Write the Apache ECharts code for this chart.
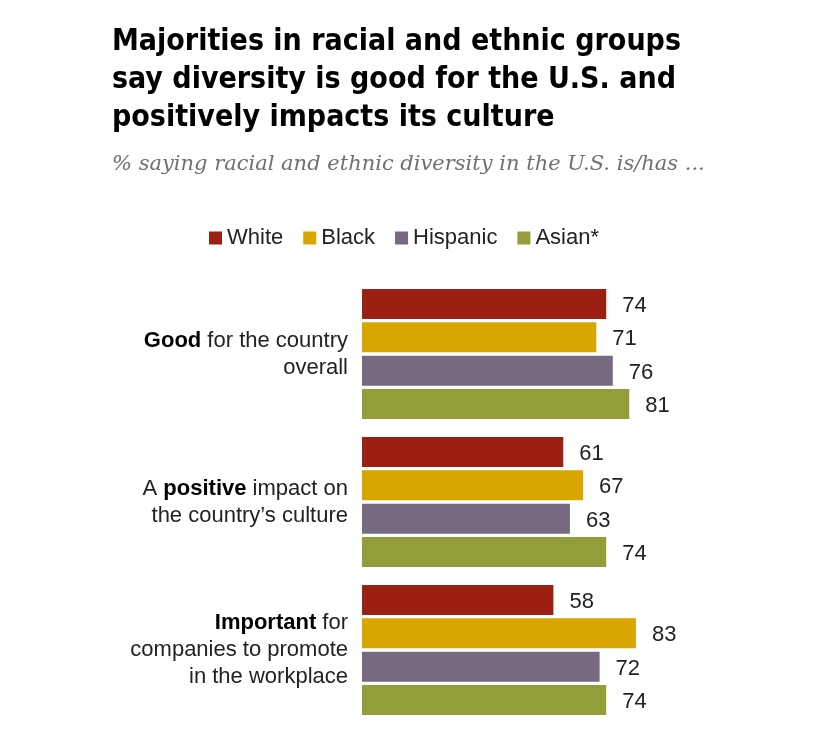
<!DOCTYPE html>
<html>
<head>
<meta charset="utf-8">
<script src="https://cdn.jsdelivr.net/npm/echarts@6/dist/echarts.min.js"></script>
<style>
  html, body { margin: 0; padding: 0; background: #ffffff; }
  #chart { width: 828px; height: 735px; }
</style>
</head>
<body>
<div id="chart"></div>
<script>
// ---- data ----
const categories = ['Good', 'Positive', 'Important'];
const categoryLabels = [
  '{b|Good} for the country\noverall',
  'A {b|positive} impact on\nthe country\u2019s culture',
  '{b|Important} for\ncompanies to promote\nin the workplace'
];
const seriesNames = ['White', 'Black', 'Hispanic', 'Asian*'];
const whiteValues = [74, 61, 58];
const blackValues = [71, 67, 83];
const hispanicValues = [76, 63, 72];
const asianValues = [81, 74, 74];
const seriesColors = ['#9C1F14', '#D9A600', '#756A80', '#939E3A'];

const titleText = 'Majorities in racial and ethnic groups\nsay diversity is good for the U.S. and\npositively impacts its culture';
const subtitleText = '% saying racial and ethnic diversity in the U.S. is/has ...';

const sansFont = '"Liberation Sans", Arial, sans-serif';
const titleFont = '"Liberation Sans Narrow", "DejaVu Sans Condensed", "Liberation Sans", sans-serif';

const allValues = [whiteValues, blackValues, hispanicValues, asianValues];

const chart = echarts.init(document.getElementById('chart'), null, { renderer: 'canvas' });

const option = {
  backgroundColor: '#ffffff',
  animation: false,
  title: [
    {
      text: titleText,
      left: 107,
      top: 18,
      textStyle: {
        fontFamily: titleFont,
        fontWeight: 'bold',
        fontSize: 30,
        lineHeight: 38,
        color: '#000000'
      }
    },
    {
      text: subtitleText,
      left: 107,
      top: 149,
      textStyle: {
        fontFamily: '"DejaVu Serif", "Liberation Serif", serif',
        fontStyle: 'italic',
        fontWeight: 'normal',
        fontSize: 21,
        color: '#707070'
      }
    }
  ],
  legend: {
    top: 222,
    left: 204,
    itemWidth: 13,
    itemHeight: 13,
    itemGap: 20,
    icon: 'rect',
    data: seriesNames,
    textStyle: {
      fontFamily: sansFont,
      fontSize: 22,
      color: '#222222'
    }
  },
  grid: {
    left: 362,
    right: 136,
    top: 280,
    height: 444,
    containLabel: false
  },
  xAxis: {
    type: 'value',
    min: 0,
    max: 100,
    show: false
  },
  yAxis: {
    type: 'category',
    data: categories,
    inverse: true,
    axisLine: { show: false },
    axisTick: { show: false },
    splitLine: { show: false },
    axisLabel: {
      margin: 14,
      fontFamily: sansFont,
      fontSize: 22,
      lineHeight: 27,
      color: '#222222',
      align: 'right',
      formatter: function (value, index) { return categoryLabels[index]; },
      rich: {
        b: {
          fontFamily: sansFont,
          fontWeight: 'bold',
          fontSize: 22,
          lineHeight: 27,
          color: '#000000'
        }
      }
    }
  },
  series: seriesNames.map(function (name, i) {
    return {
      name: name,
      type: 'bar',
      data: allValues[i],
      barWidth: 30,
      barGap: '11%',
      itemStyle: { color: seriesColors[i] },
      label: {
        show: true,
        position: 'right',
        distance: 16,
        offset: [0, 2],
        fontFamily: sansFont,
        fontSize: 22,
        color: '#222222'
      }
    };
  })
};

chart.setOption(option);
</script>
</body>
</html>
